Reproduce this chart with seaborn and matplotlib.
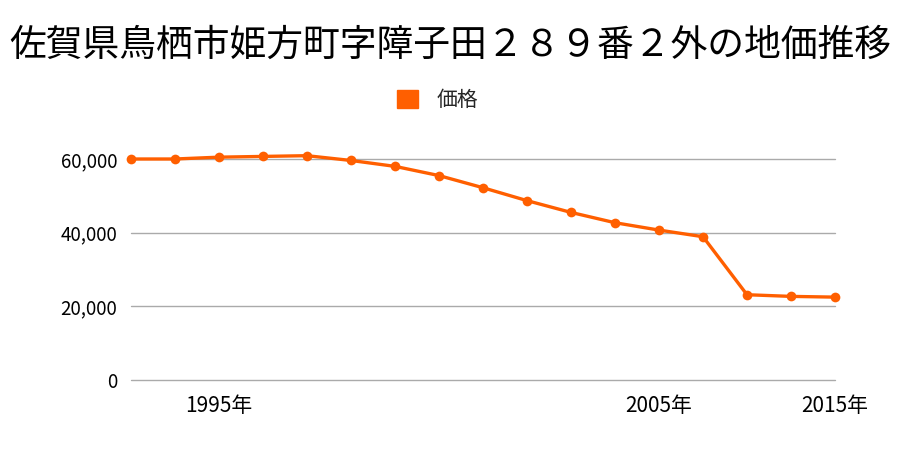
import numpy as np
import pandas as pd
import matplotlib
matplotlib.use("Agg")
import matplotlib.pyplot as plt
import seaborn as sns
from matplotlib.patches import Patch

# data
years = [1993, 1994, 1995, 1996, 1997, 1998, 1999, 2000, 2001, 2002,
         2003, 2004, 2005, 2006, 2013, 2014, 2015]
prices = [60000, 60000, 60500, 60700, 60900, 59600, 58000, 55500, 52200, 48700,
          45500, 42700, 40700, 38900, 23150, 22700, 22500]
shown_years = [1995, 2005, 2015]
yticks = [0, 20000, 40000, 60000]

title = "佐賀県鳥栖市姫方町字障子田２８９番２外の地価推移"
series_name = "価格"
color = "#ff5f00"

sns.set_theme(style="white")
plt.rcParams["font.family"] = ["Noto Sans CJK JP", "DejaVu Sans"]

df = pd.DataFrame({"pos": np.arange(len(years)), "year": years, "price": prices})

fig = plt.figure(figsize=(9, 4.5), dpi=100)
ax = fig.add_axes([131 / 900, 1 - 380 / 450, (835 - 131) / 900, (380 - 159) / 450])

sns.lineplot(data=df, x="pos", y="price", ax=ax, color=color, linewidth=2.4,
             marker="o", markersize=7, markeredgewidth=0, clip_on=False, zorder=3)

ax.set_xlim(0, len(years) - 1)
ax.set_ylim(0, 60000)
ax.set_yticks(yticks)
ax.set_yticklabels([f"{v:,}" for v in yticks])
ax.yaxis.grid(True, color="#aaaaaa", linewidth=1)
ax.xaxis.grid(False)
for gl in ax.get_ygridlines():
    gl.set_clip_on(False)

ticks = [years.index(y) for y in shown_years]
ax.set_xticks(ticks)
ax.set_xticklabels([f"{y}年" for y in shown_years])

ax.tick_params(axis="y", length=0, pad=10, labelsize=13.5, colors="black")
ax.tick_params(axis="x", length=0, pad=11, labelsize=15, colors="black")
ax.set_xlabel("")
ax.set_ylabel("")
for s in ax.spines.values():
    s.set_visible(False)

fig.text(0.5, 1 - 45 / 450, title, ha="center", va="center", fontsize=26.5, color="black")
fig.legend(handles=[Patch(color=color, label=series_name)], loc="center",
           bbox_to_anchor=(438 / 900, 1 - 100 / 450), frameon=False, fontsize=15,
           handlelength=1.0, handleheight=1.0, handletextpad=0.9)

fig.savefig("out.png", dpi=100)
